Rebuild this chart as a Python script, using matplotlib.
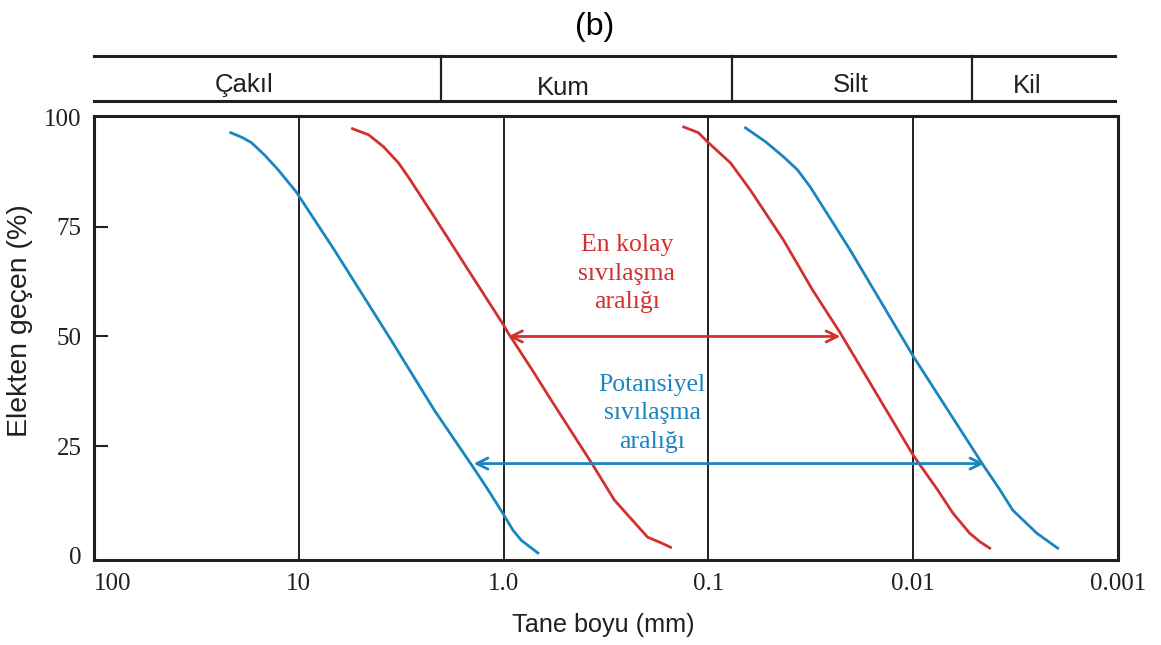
import numpy as np
import matplotlib
matplotlib.use("Agg")
import matplotlib.pyplot as plt

# grain size (mm) vs percent passing
blue_coarse_d = [21.5, 18.9, 17.0, 14.7, 12.6, 10.3, 6.7, 4.6, 3.6, 2.18, 1.41, 1.19, 1.01, 0.90, 0.82, 0.68]
blue_coarse_p = [96.5, 95.4, 94.2, 91.4, 88.0, 83.0, 69.7, 57.6, 49.7, 33.2, 20.2, 15.0, 9.7, 5.8, 3.5, 0.6]

red_coarse_d = [5.47, 4.56, 3.86, 3.26, 2.92, 2.18, 1.49, 1.0, 0.95, 0.71, 0.586, 0.367,
                0.288, 0.247, 0.198, 0.170, 0.153]
red_coarse_p = [97.4, 96.0, 93.3, 89.6, 86.4, 77.3, 65.2, 52.6, 50.8, 41.7, 35.5, 20.7,
                12.7, 9.2, 4.2, 2.9, 1.9]

red_fine_d = [0.132, 0.112, 0.101, 0.078, 0.0695, 0.0624, 0.043, 0.031, 0.0227, 0.0100, 0.0076,
              0.0064, 0.0053, 0.0047, 0.00423]
red_fine_p = [97.8, 96.5, 94.4, 89.6, 86.4, 83.4, 72.0, 60.6, 50.8, 22.9, 15.0,
              9.7, 5.1, 3.1, 1.7]

blue_fine_d = [0.0659, 0.0525, 0.043, 0.0367, 0.0318, 0.0203, 0.0100, 0.00456, 0.00377, 0.00327,
               0.00249, 0.00197]
blue_fine_p = [97.6, 94.4, 91.0, 88.0, 84.1, 69.7, 45.5, 20.7, 15.0, 10.4, 5.1, 1.7]

# liquefaction ranges (arrows)
easy_range = [0.95, 0.0227]
easy_level = 50
potential_range = [1.40, 0.0045]
potential_level = 21

# soil classes on the top strip
soil_names = ["Çakıl", "Kum", "Silt", "Kil"]
soil_bounds = [2.0, 0.075, 0.005]

grid_d = [10, 1, 0.1, 0.01]
xticks = [100, 10, 1, 0.1, 0.01, 0.001]
xtick_labels = ["100", "10", "1.0", "0.1", "0.01", "0.001"]
yticks = [0, 25, 50, 75, 100]

BLUE = "#1a85bf"
RED = "#d2312d"
INK = "#231f20"
W, H = 1161, 645


def main():
    fig = plt.figure(figsize=(W / 100, H / 100), dpi=100)
    left, right = 94 / W, 1118 / W
    ax = fig.add_axes([left, (H - 560) / H, right - left, (560 - 116) / H])

    ax.set_xscale("log")
    ax.set_xlim(100, 0.001)
    ax.set_ylim(-1, 100.3)

    for d in grid_d:
        ax.axvline(d, color=INK, lw=1.4, zorder=1)

    ax.plot(blue_coarse_d, blue_coarse_p, color=BLUE, lw=2.0, zorder=3)
    ax.plot(red_coarse_d, red_coarse_p, color=RED, lw=2.0, zorder=3)
    ax.plot(red_fine_d, red_fine_p, color=RED, lw=2.0, zorder=3)
    ax.plot(blue_fine_d, blue_fine_p, color=BLUE, lw=2.0, zorder=3)

    ax.annotate("", xy=(easy_range[1], easy_level), xytext=(easy_range[0], easy_level),
                arrowprops=dict(arrowstyle="<->", color=RED, lw=2.0, shrinkA=0, shrinkB=0,
                                mutation_scale=20), zorder=4)
    ax.annotate("", xy=(potential_range[1], potential_level),
                xytext=(potential_range[0], potential_level),
                arrowprops=dict(arrowstyle="<->", color=BLUE, lw=2.0, shrinkA=0, shrinkB=0,
                                mutation_scale=20), zorder=4)

    ax.text(0.5205, 0.645, "En kolay\nsıvılaşma\naralığı", transform=ax.transAxes,
            ha="center", va="center", color=RED, fontsize=18.5,
            family="Liberation Serif", linespacing=1.4)
    ax.text(0.545, 0.33, "Potansiyel\nsıvılaşma\naralığı", transform=ax.transAxes,
            ha="center", va="center", color=BLUE, fontsize=18.5,
            family="Liberation Serif", linespacing=1.4)

    for s in ax.spines.values():
        s.set_linewidth(2.2)
        s.set_color(INK)

    ax.set_xticks(xticks)
    ax.set_xticklabels(xtick_labels)
    ax.xaxis.set_minor_locator(matplotlib.ticker.NullLocator())
    ax.tick_params(axis="x", length=0, pad=9)
    ax.set_yticks(yticks)
    ax.tick_params(axis="y", direction="in", length=10, width=1.5, color=INK, pad=9)
    ytk = ax.yaxis.get_major_ticks()
    ytk[0].tick1line.set_visible(False)
    ytk[-1].tick1line.set_visible(False)
    for lab in ax.get_xticklabels() + ax.get_yticklabels():
        lab.set_family("Liberation Serif")
        lab.set_fontsize(18)
        lab.set_color(INK)
    ax.get_xticklabels()[0].set_horizontalalignment("left")

    # soil class strip above the plot
    tab = fig.add_axes([left, (H - 101) / H, (1115 - 94) / W, 45 / H])
    tab.set_xscale("log")
    tab.set_xlim(100, 0.001 * (1118 / 1115))
    tab.set_ylim(0, 1)
    tab.axis("off")
    tab.axhline(0, color=INK, lw=2.2, clip_on=False)
    tab.axhline(1, color=INK, lw=2.2, clip_on=False)
    for b in soil_bounds:
        tab.axvline(b, color=INK, lw=1.6, clip_on=False)
    name_x = [0.1475, 0.46, 0.741, 0.914]
    name_y = [0.207, 0.133, 0.207, 0.17]
    for name, nx, ny in zip(soil_names, name_x, name_y):
        tab.text(nx, ny, name, transform=tab.transAxes, ha="center", va="baseline",
                 fontsize=18.5, family="Liberation Sans", color=INK)

    fig.text(595 / W, 1 - 35 / H, "(b)", ha="center", va="baseline",
             fontsize=23, family="Liberation Sans")
    fig.text(603 / W, 1 - 625 / H, "Tane boyu (mm)", ha="center", va="center",
             fontsize=18.2, family="Liberation Sans", color=INK)
    fig.text(20 / W, 1 - 321 / H, "Elekten geçen (%)", ha="center", va="center",
             rotation=90, fontsize=20.5, family="Liberation Sans", color=INK)

    fig.savefig("out.png", dpi=100, facecolor="white")


if __name__ == "__main__":
    main()
